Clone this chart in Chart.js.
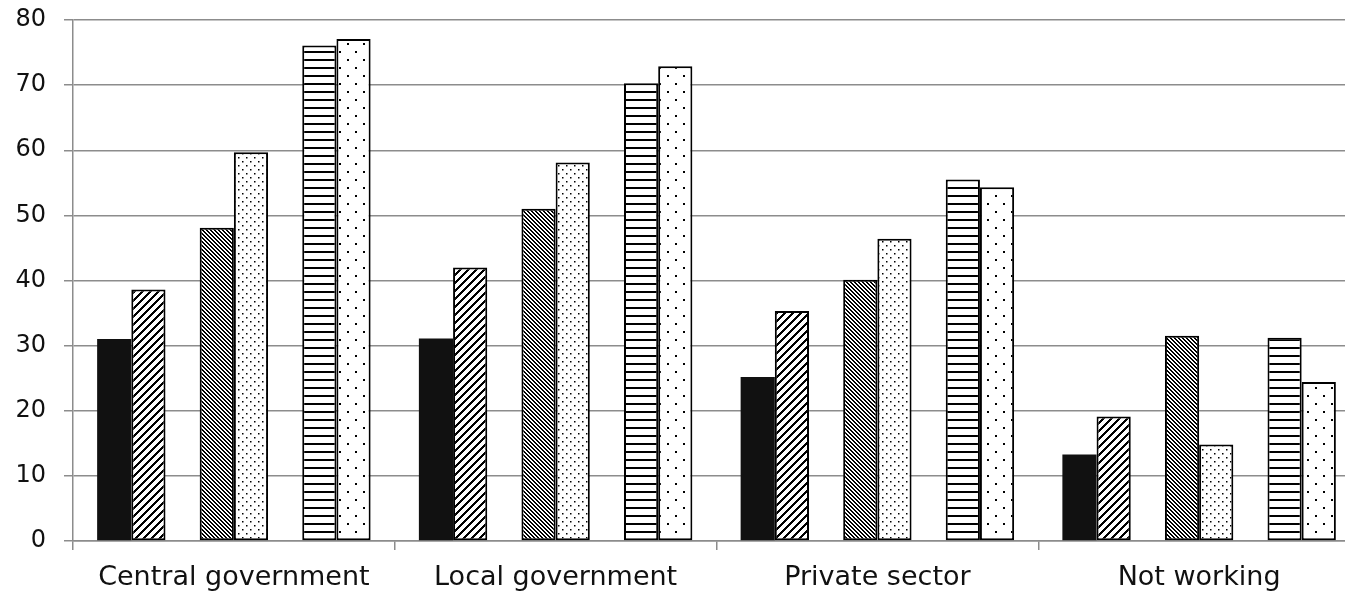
<!DOCTYPE html>
<html>
<head>
<meta charset="utf-8">
<script src="https://cdn.jsdelivr.net/npm/chart.js@4"></script>
<style>
  html, body { margin: 0; padding: 0; background: #fff; overflow: hidden; }
  #wrap { width: 1362px; height: 592px; position: relative; }
</style>
</head>
<body>
<div id="wrap"><canvas id="chart"></canvas></div>
<script>
const categories = ['Central government', 'Local government', 'Private sector', 'Not working'];

// six series, drawn in pairs with an empty slot between the pairs
const serie1 = [31.0, 31.1, 25.2, 13.3];
const serie2 = [38.6, 42.0, 35.3, 19.1];
const serie3 = [48.1, 51.0, 40.1, 31.5];
const serie4 = [59.7, 58.1, 46.4, 14.8];
const serie5 = [76.1, 70.3, 55.5, 31.2];
const serie6 = [77.1, 72.9, 54.3, 24.4];
const huecos = [null, null, null, null];

const yTicks = [0, 10, 20, 30, 40, 50, 60, 70, 80];

const GRIS = '#8c8c8c';
const FUENTE = "'DejaVu Sans', Verdana, sans-serif";

function crearPatron(tam, pintar) {
    const c = document.createElement('canvas');
    c.width = tam;
    c.height = tam;
    const ctx = c.getContext('2d');
    ctx.fillStyle = '#fff';
    ctx.fillRect(0, 0, tam, tam);
    ctx.fillStyle = '#000';
    pintar(ctx, tam);
    return document.createElement('canvas').getContext('2d').createPattern(c, 'repeat');
}

function porPixel(tam, regla) {
    return crearPatron(tam, (ctx) => {
        for (let y = 0; y < tam; y++) {
            for (let x = 0; x < tam; x++) {
                if (regla(x, y)) ctx.fillRect(x, y, 1, 1);
            }
        }
    });
}

const rayaDerecha = porPixel(8, (x, y) => ((x + y) % 8) < 3);
const rayaIzquierda = porPixel(4, (x, y) => (((x - y) % 4) + 4) % 4 < 2);
const puntosDensos = crearPatron(8, (ctx) => {
    ctx.fillRect(2, 1, 1.5, 1.5);
    ctx.fillRect(6, 5, 1.5, 1.5);
});
const lineasHoriz = crearPatron(8, (ctx) => {
    ctx.fillRect(0, 3, 8, 2);
});
const puntosRalos = crearPatron(16, (ctx) => {
    ctx.fillRect(3, 3, 2, 2);
    ctx.fillRect(11, 11, 2, 2);
});

function serie(label, data, fondo, borde) {
    return {
        label,
        data,
        backgroundColor: fondo,
        borderColor: '#000',
        borderWidth: borde,
        borderSkipped: false
    };
}

const datasets = [
    serie('Serie 1', serie1, '#111', 0),
    serie('Serie 2', serie2, rayaDerecha, 2),
    serie('', huecos, 'transparent', 0),
    serie('Serie 3', serie3, rayaIzquierda, 2),
    serie('Serie 4', serie4, puntosDensos, 2),
    serie('', huecos, 'transparent', 0),
    serie('Serie 5', serie5, lineasHoriz, 2),
    serie('Serie 6', serie6, puntosRalos, 2)
];

new Chart(document.getElementById('chart'), {
    type: 'bar',
    data: { labels: categories, datasets },
    options: {
        responsive: true,
        maintainAspectRatio: false,
        animation: false,
        layout: { padding: { top: 20, right: 2, bottom: 0, left: 0 } },
        datasets: { bar: { categoryPercentage: 0.85, barPercentage: 1.0 } },
        plugins: {
            legend: { display: false },
            tooltip: { enabled: false }
        },
        scales: {
            x: {
                grid: {
                    display: true,
                    offset: true,
                    drawOnChartArea: false,
                    drawTicks: true,
                    tickLength: 9,
                    color: GRIS,
                    lineWidth: 1.5
                },
                border: { display: true, color: GRIS, width: 1.5 },
                ticks: {
                    color: '#111',
                    padding: 12,
                    maxRotation: 0,
                    autoSkip: false,
                    font: { family: FUENTE, size: 27 }
                },
                afterFit: (scale) => { scale.height = 51; }
            },
            y: {
                min: yTicks[0],
                max: yTicks[yTicks.length - 1],
                afterBuildTicks: (scale) => { scale.ticks = yTicks.map(v => ({ value: v })); },
                grid: {
                    color: GRIS,
                    lineWidth: 1.5,
                    tickLength: 9,
                    drawTicks: true
                },
                border: { display: true, color: GRIS, width: 1.5 },
                ticks: {
                    color: '#111',
                    padding: 18,
                    font: { family: FUENTE, size: 24 }
                },
                afterFit: (scale) => {
                    scale.width = 73;
                    scale.paddingTop = 0;
                    scale.paddingBottom = 0;
                }
            }
        }
    }
});
</script>
</body>
</html>
